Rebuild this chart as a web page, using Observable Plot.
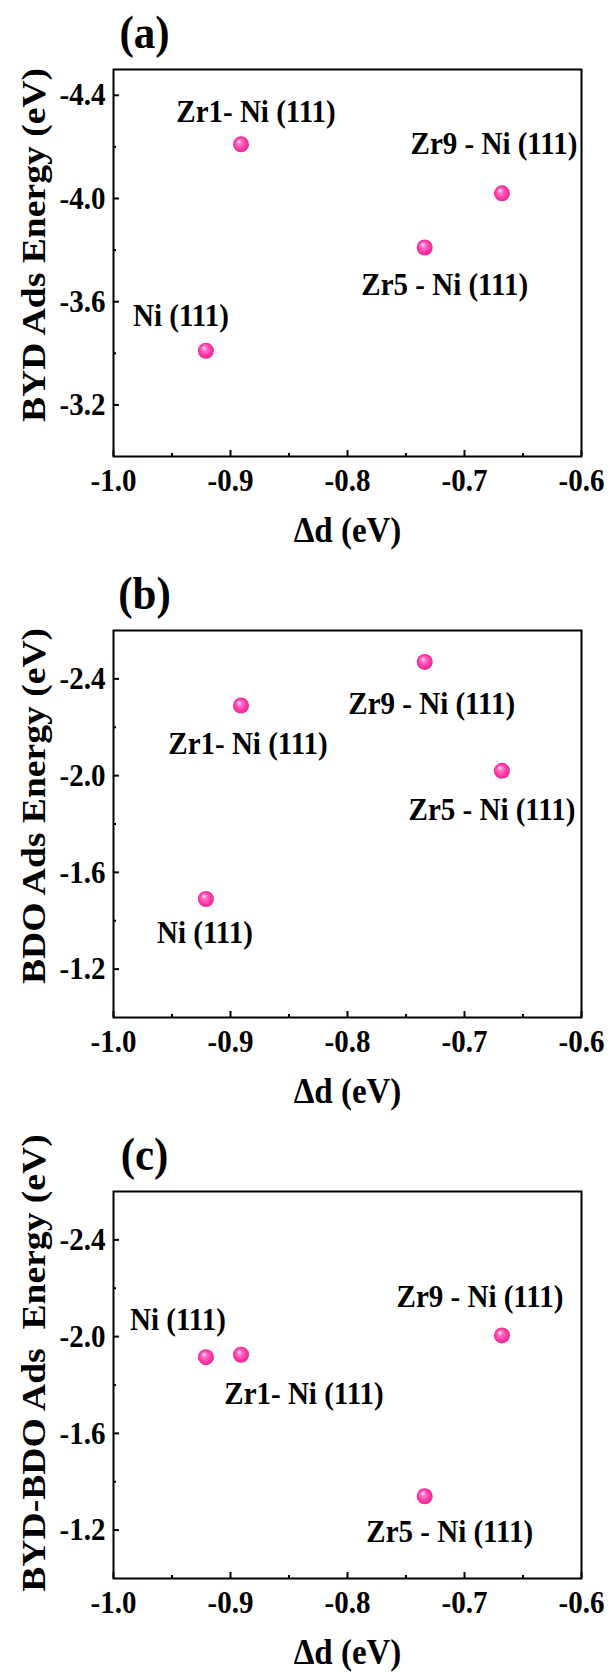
<!DOCTYPE html>
<html>
<head>
<meta charset="utf-8">
<script src="https://cdn.jsdelivr.net/npm/d3@7"></script>
<script src="https://cdn.jsdelivr.net/npm/@observablehq/plot@0.6"></script>
<style>
  html, body { margin: 0; padding: 0; background: #fff; }
  #charts svg { display: block; white-space: pre; font-family: "Liberation Serif", "Times New Roman", serif; }
  #charts svg text { font-family: "Liberation Serif", "Times New Roman", serif; }
</style>
</head>
<body>
<div id="charts"></div>
<script>
// d-band centre shift of each surface (eV)
const dBandShift = [-0.921, -0.891, -0.734, -0.668];

// Adsorption energies (eV), same order as dBandShift
const bydEnergy    = [-3.41, -4.21, -3.81, -4.02];
const bdoEnergy    = [-1.49, -2.29, -2.47, -2.02];
const bydBdoEnergy = [-1.915, -1.925, -1.34, -2.005];

// Point labels per panel, same order as dBandShift
const labelsA = ["Ni (111)", "Zr1- Ni (111)", "Zr5 - Ni (111)", "Zr9 - Ni (111)"];
const labelsB = ["Ni (111)", "Zr1- Ni (111)", "Zr9 - Ni (111)", "Zr5 - Ni (111)"];
const labelsC = ["Ni (111)", "Zr1- Ni (111)", "Zr5 - Ni (111)", "Zr9 - Ni (111)"];

// Axis ticks
const xMajor = [-1.0, -0.9, -0.8, -0.7, -0.6];
const xMinor = [-0.95, -0.85, -0.75, -0.65];
const yMajorA = [-4.4, -4.0, -3.6, -3.2];
const yMinorA = [-4.2, -3.8, -3.4];
const yMajorBC = [-2.4, -2.0, -1.6, -1.2];
const yMinorBC = [-2.2, -1.8, -1.4];

// Label placement: [dx, baseline dy] in pixels from each dot
const offsetsA = [[-25, -25], [15, -22], [20, 47], [-8, -39]];
const offsetsB = [[-1, 44], [7, 49], [7, 52], [-10, 49]];
const offsetsC = [[-28, -27], [63, 49], [25, 46], [-22, -28]];

const FONT = "Liberation Serif";
const TEXT_STRETCH = 1.09; // tall, narrow lettering
const W = 610, ML = 113, MR = 29, MT = 69, FRAME_H = 387;
const FRAME_W = W - ML - MR;

function stretchText(svg) {
  svg.querySelectorAll("text").forEach(t => {
    const tr = t.getAttribute("transform") || "";
    const m = tr.match(/^\s*(translate\([^)]*\))(.*)$/);
    const s = `scale(1,${TEXT_STRETCH})`;
    t.setAttribute("transform", m ? `${m[1]} ${s}${m[2]}` : `${s} ${tr}`.trim());
  });
}

function panel({id, tag, yTitle, yTitleDy, yDomain, yMajor, yMinor, values, labels, offsets, height}) {
  const MB = height - MT - FRAME_H;
  const rows = dBandShift.map((x, i) => ({x, y: values[i], label: labels[i]}));
  const bold = {fontFamily: FONT, fontWeight: "bold", fill: "black"};

  const svg = Plot.plot({
    width: W,
    height,
    marginLeft: ML,
    marginRight: MR,
    marginTop: MT,
    marginBottom: MB,
    style: {fontFamily: FONT, background: "white", overflow: "visible", color: "black"},
    x: {domain: [-1.0, -0.6]},
    y: {domain: yDomain},
    marks: [
      // tick labels
      Plot.axisX(xMajor, {tickSize: 0, tickPadding: 12, tickFormat: d => d.toFixed(1),
        fontSize: 29, ...bold, label: null}),
      Plot.axisY(yMajor, {tickSize: 0, tickPadding: 8, tickFormat: d => d.toFixed(1),
        fontSize: 29, ...bold, label: null}),
      // inward ticks
      Plot.tickX(xMajor, {x: d => d, insetTop: FRAME_H - 6, stroke: "black", strokeWidth: 2}),
      Plot.tickX(xMinor, {x: d => d, insetTop: FRAME_H - 3, stroke: "black", strokeWidth: 2}),
      Plot.tickY(yMajor, {y: d => d, insetRight: FRAME_W - 6, stroke: "black", strokeWidth: 2}),
      Plot.tickY(yMinor, {y: d => d, insetRight: FRAME_W - 3, stroke: "black", strokeWidth: 2}),
      Plot.frame({stroke: "black", strokeWidth: 2}),
      // points
      Plot.dot(rows, {x: "x", y: "y", r: 8, fill: "#ff3fa8", stroke: "none"}),
      // point labels
      ...rows.map((r, i) => Plot.text([r], {
        x: "x", y: "y", text: "label",
        dx: offsets[i][0], dy: offsets[i][1],
        lineAnchor: "bottom", textAnchor: "middle",
        fontSize: 29, ...bold
      })),
      // panel tag
      Plot.text([tag], {frameAnchor: "top-left", dx: 31, dy: -22, lineAnchor: "bottom",
        textAnchor: "middle", fontSize: 43, ...bold}),
      // axis titles
      Plot.text(["Δd (eV)"], {frameAnchor: "bottom", dy: 85, lineAnchor: "bottom",
        textAnchor: "middle", fontSize: 33, ...bold}),
      Plot.text([yTitle], {frameAnchor: "left", rotate: -90, dx: -80, dy: yTitleDy,
        lineAnchor: "middle", textAnchor: "middle", fontSize: 34.5, ...bold})
    ]
  });

  stretchText(svg);

  // glossy sphere fill for the dots
  const ns = "http://www.w3.org/2000/svg";
  const defs = document.createElementNS(ns, "defs");
  defs.innerHTML =
    `<radialGradient id="sphere-${id}" cx="0.5" cy="0.5" r="0.5" fx="0.36" fy="0.3">
       <stop offset="0" stop-color="#fff2fa"/>
       <stop offset="0.28" stop-color="#ff78c8"/>
       <stop offset="0.7" stop-color="#ff3aa8"/>
       <stop offset="1" stop-color="#e52892"/>
     </radialGradient>`;
  svg.insertBefore(defs, svg.firstChild);
  const dots = svg.querySelector('g[aria-label="dot"]');
  if (dots) {
    dots.setAttribute("fill", `url(#sphere-${id})`);
    dots.querySelectorAll("circle").forEach(c => c.setAttribute("fill", `url(#sphere-${id})`));
  }
  return svg;
}

const root = document.getElementById("charts");
root.append(
  panel({id: "a", tag: "(a)", yTitle: "BYD Ads Energy (eV)", yTitleDy: -18,
    yDomain: [-3.0, -4.5], yMajor: yMajorA, yMinor: yMinorA,
    values: bydEnergy, labels: labelsA, offsets: offsetsA, height: 561}),
  panel({id: "b", tag: "(b)", yTitle: "BDO Ads Energy (eV)", yTitleDy: -18,
    yDomain: [-1.0, -2.6], yMajor: yMajorBC, yMinor: yMinorBC,
    values: bdoEnergy, labels: labelsB, offsets: offsetsB, height: 561}),
  panel({id: "c", tag: "(c)", yTitle: "BYD-BDO Ads  Energy (eV)", yTitleDy: -22,
    yDomain: [-1.0, -2.6], yMajor: yMajorBC, yMinor: yMinorBC,
    values: bydBdoEnergy, labels: labelsC, offsets: offsetsC, height: 550})
);
</script>
</body>
</html>
